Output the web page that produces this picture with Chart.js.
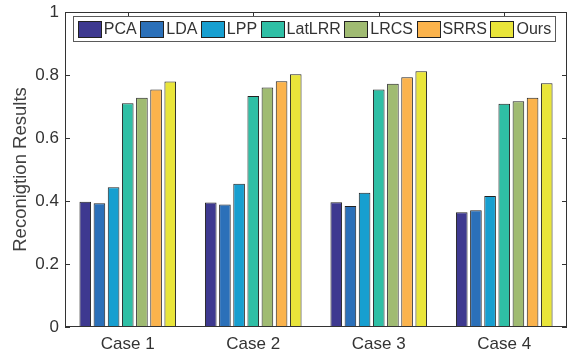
<!DOCTYPE html>
<html>
<head>
<meta charset="utf-8">
<script src="https://cdn.jsdelivr.net/npm/chart.js@4"></script>
<style>
  html, body { margin: 0; padding: 0; background: #fff; }
  #wrap { width: 574px; height: 356px; }
</style>
</head>
<body>
<div id="wrap"><canvas id="recChart" width="574" height="356"></canvas></div>
<script>
// datos
const categories = ['Case 1', 'Case 2', 'Case 3', 'Case 4'];
const methods = ['PCA', 'LDA', 'LPP', 'LatLRR', 'LRCS', 'SRRS', 'Ours'];
const pca    = [0.398, 0.395, 0.396, 0.364];
const lda    = [0.393, 0.389, 0.384, 0.371];
const lpp    = [0.444, 0.455, 0.426, 0.416];
const latlrr = [0.710, 0.733, 0.754, 0.709];
const lrcs   = [0.728, 0.760, 0.772, 0.717];
const srrs   = [0.754, 0.780, 0.793, 0.728];
const ours   = [0.779, 0.802, 0.812, 0.774];
const yTicks = [0, 0.2, 0.4, 0.6, 0.8, 1];

const seriesValues = [pca, lda, lpp, latlrr, lrcs, srrs, ours];
const colors = ['#3e3990', '#2b70b9', '#179fd0', '#2fbfa5', '#a0bb72', '#fbb34c', '#e9e53a'];
const axisColor = '#333333';
const fontFamily = 'Arial, "Liberation Sans", Helvetica, sans-serif';

// caja, marcas y leyenda al estilo MATLAB
const matlabBox = {
    id: 'matlabBox',
    beforeDatasetsDraw(chart) {
        const { ctx, chartArea: a, scales } = chart;
        ctx.save();
        ctx.strokeStyle = axisColor;
        ctx.lineWidth = 1;
        ctx.beginPath();
        yTicks.forEach(v => {
            const y = Math.round(scales.y.getPixelForValue(v)) + 0.5;
            ctx.moveTo(a.left, y); ctx.lineTo(a.left + 5, y);
            ctx.moveTo(a.right, y); ctx.lineTo(a.right - 5, y);
        });
        categories.forEach((c, i) => {
            const x = Math.round(scales.x.getPixelForValue(i)) + 0.5;
            ctx.moveTo(x, a.top); ctx.lineTo(x, a.top + 5);
            ctx.moveTo(x, a.bottom); ctx.lineTo(x, a.bottom - 5);
        });
        ctx.stroke();
        ctx.restore();
    },
    afterDatasetsDraw(chart) {
        const { ctx, chartArea: a } = chart;
        ctx.save();
        ctx.strokeStyle = axisColor;
        ctx.lineWidth = 1;
        ctx.strokeRect(a.left + 0.5, a.top + 0.5, a.right - a.left - 1, a.bottom - a.top - 1);

        // leyenda
        ctx.font = '16px ' + fontFamily;
        const boxW = 23, boxH = 16, gapText = 3, gapItem = 3.5;
        const widths = chart.data.datasets.map(d => ctx.measureText(d.label).width);
        let total = 0;
        widths.forEach(w => { total += boxW + gapText + w + gapItem; });
        total -= gapItem;
        const frameL = 73.5, frameR = 555.5, frameT = 16.5, frameB = 41.5;
        let x = (frameL + frameR) / 2 - total / 2;
        const cy = (frameT + frameB) / 2;
        ctx.fillStyle = '#ffffff';
        ctx.fillRect(frameL, frameT, frameR - frameL, frameB - frameT);
        ctx.strokeStyle = '#5a5a5a';
        ctx.strokeRect(frameL, frameT, frameR - frameL, frameB - frameT);
        ctx.textBaseline = 'middle';
        chart.data.datasets.forEach((d, i) => {
            ctx.fillStyle = d.backgroundColor;
            ctx.fillRect(Math.round(x) + 0.5, Math.round(cy - boxH / 2) + 0.5, boxW, boxH);
            ctx.strokeStyle = '#222';
            ctx.strokeRect(Math.round(x) + 0.5, Math.round(cy - boxH / 2) + 0.5, boxW, boxH);
            ctx.fillStyle = axisColor;
            ctx.fillText(d.label, x + boxW + gapText, cy + 1);
            x += boxW + gapText + widths[i] + gapItem;
        });
        ctx.restore();
    }
};

const ctx = document.getElementById('recChart').getContext('2d');
new Chart(ctx, {
    type: 'bar',
    data: {
        labels: categories,
        datasets: methods.map((m, i) => ({
            label: m,
            data: seriesValues[i],
            backgroundColor: colors[i],
            borderColor: '#222222',
            borderWidth: 1,
            barPercentage: 0.82,
            categoryPercentage: 0.79
        }))
    },
    options: {
        responsive: false,
        animation: false,
        devicePixelRatio: 1,
        layout: { padding: { left: 0, right: 7, top: 12, bottom: 0 } },
        plugins: {
            legend: { display: false },
            tooltip: { enabled: false }
        },
        scales: {
            x: {
                grid: { display: false, drawTicks: false },
                border: { display: false },
                ticks: { color: axisColor, padding: 7, font: { family: fontFamily, size: 17 } },
                afterFit(scale) { scale.height = 29; }
            },
            y: {
                min: 0,
                max: 1,
                afterBuildTicks(scale) { scale.ticks = yTicks.map(v => ({ value: v })); },
                grid: { display: false, drawTicks: false },
                border: { display: false },
                ticks: {
                    color: axisColor,
                    padding: 6,
                    font: { family: fontFamily, size: 17 },
                    callback: v => String(v)
                },
                title: {
                    display: true,
                    text: 'Reconigtion Results',
                    color: '#404040',
                    padding: { top: 10, bottom: 0 },
                    font: { family: fontFamily, size: 18.5 }
                },
                afterFit(scale) {
                    scale.width = 65;
                    scale.paddingTop = 0;
                    scale.paddingBottom = 0;
                }
            }
        }
    },
    plugins: [matlabBox]
});
</script>
</body>
</html>
